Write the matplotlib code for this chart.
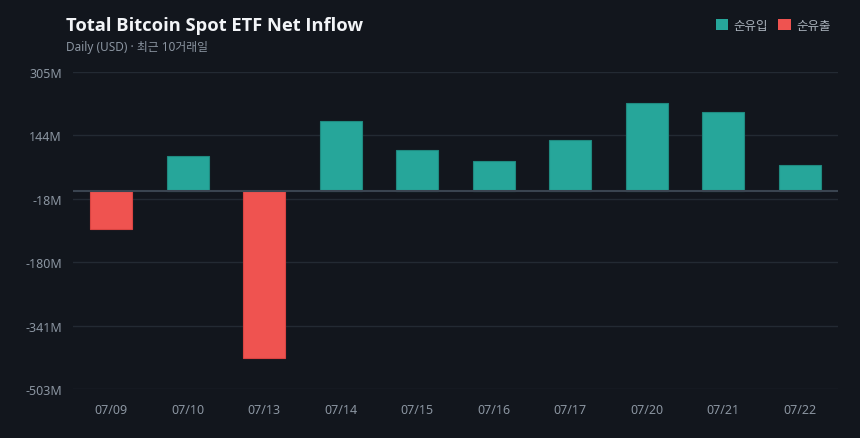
import numpy as np
import matplotlib
matplotlib.use('Agg')
from matplotlib import pyplot as plt
from matplotlib.patches import Patch

plt.rcParams['font.family'] = ['Noto Sans', 'Noto Sans CJK KR', 'DejaVu Sans']

dates = ['07/09', '07/10', '07/13', '07/14', '07/15', '07/16', '07/17', '07/20', '07/21', '07/22']
flows = [-95, 90, -424, 180, 106, 78, 131, 226, 203, 68]   # million USD
y_ticks = [-502.7, -341.1, -179.5, -17.9, 143.8, 305.4]

bg = '#12161d'
teal = '#26a69a'
red = '#ef5350'
grid_c = '#232a33'
text_c = '#8b95a1'

fig = plt.figure(figsize=(8.6, 4.39), dpi=100, facecolor=bg)
ax = fig.add_axes([73/860, 1-390/439, (838-73)/860, (390-72.5)/439])
ax.set_facecolor(bg)

x = np.arange(len(dates))
colors = [teal if v >= 0 else red for v in flows]
edges = ['#1f8a80' if v >= 0 else '#d94442' for v in flows]
ax.bar(x, flows, width=0.55, color=colors, edgecolor=edges, linewidth=0.8, zorder=3)

ax.set_xlim(-0.5, len(dates) - 0.5)
ax.set_ylim(y_ticks[0], y_ticks[-1])
ax.set_yticks(y_ticks)
ax.set_yticklabels(['%dM' % round(t) for t in y_ticks])
ax.set_xticks(x)
ax.set_xticklabels(dates)
ax.grid(axis='y', color=grid_c, linewidth=1, zorder=0)
ax.axhline(0, color='#3a4450', linewidth=1.5, zorder=4)
for s in ax.spines.values():
    s.set_visible(False)
ax.tick_params(axis='both', length=0, colors=text_c, labelsize=9)
ax.tick_params(axis='x', pad=10)
ax.tick_params(axis='y', pad=8)

fig.text(66/860, 1-26/439, 'Total Bitcoin Spot ETF Net Inflow', color='#f2f4f7',
         fontsize=13.2, fontweight='bold', va='center', ha='left',
         family=['Open Sans', 'DejaVu Sans'])
fig.text(66/860, 1-47.5/439, 'Daily (USD) · 최근 10거래일', color=text_c,
         fontsize=8.5, va='center', ha='left', family=['Noto Sans', 'Noto Sans CJK KR'])

handles = [Patch(facecolor=teal, label='순유입'), Patch(facecolor=red, label='순유출')]
leg = fig.legend(handles=handles, loc='center right', bbox_to_anchor=(842/860, 1-26.5/439),
                 ncol=2, frameon=False, handlelength=1.0, handleheight=1.0,
                 handletextpad=0.45, columnspacing=0.8,
                 prop={'family': ['Noto Sans CJK KR', 'DejaVu Sans'], 'size': 9})
for t in leg.get_texts():
    t.set_color('#a9b1bb')

fig.savefig('out.png', dpi=100, facecolor=bg)
